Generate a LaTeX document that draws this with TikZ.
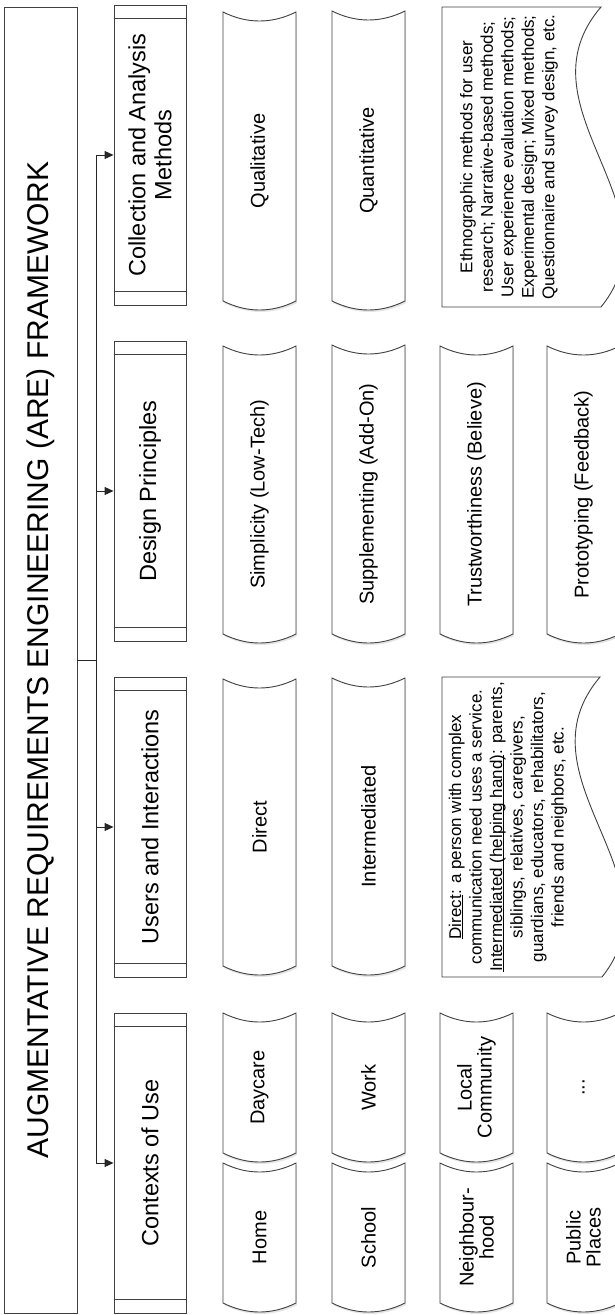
\documentclass[tikz,border=0pt]{standalone}
\usepackage{fontspec}
\setmainfont{Liberation Sans}
\usetikzlibrary{arrows.meta,shadows}
\tikzset{
  ln/.style={draw=black!75, line width=0.9pt},
  catbox/.style={ln, fill=white, minimum width=72pt, minimum height=300pt, inner sep=0pt},
  cattext/.style={rotate=90, align=center, font=\fontsize{23.5}{26}\selectfont},
  tapeshape/.style={ln, fill=white, drop shadow={shadow xshift=1.2pt, shadow yshift=-2pt, opacity=0.2}},
  tapetext/.style={rotate=90, align=center, font=\fontsize{20}{20}\selectfont},
  doctext/.style={rotate=90, align=center, font=\fontsize{17}{20.5}\selectfont},
  arr/.style={draw=black!85, line width=0.9pt, -{Triangle[length=9pt,width=8pt]}},
}
\newcommand\myul[1]{\setbox0\hbox{#1}\rlap{\rule[-2pt]{\wd0}{0.8pt}}\box0}
\newcommand\tapeitem[5]{%
  \path[tapeshape] (#2,#3) .. controls ({#2+24},{#3+12}) and ({#2+49},{#3+12}) .. ({#2+73},#3)
    -- ({#2+73},#4) .. controls ({#2+49},{#4+12}) and ({#2+24},{#4+12}) .. (#2,#4) -- cycle;
  \node[tapetext] (#1) at ({#2+36.5},{(#3+9+#4)/2}) {#5};
}
\begin{document}
\begin{tikzpicture}[x=1pt,y=-1pt]
\useasboundingbox (0,0) rectangle (615,1315);
\clip (0,0) rectangle (615,1315);
\fill[white] (0,0) rectangle (615,1315);

% title
\node[ln, fill=white, minimum width=73pt, minimum height=1306pt, inner sep=0pt] (titlebox) at (40.5,660) {};
\node[rotate=90, font=\fontsize{30}{36}\selectfont] (titletext) at (titlebox.center) {AUGMENTATIVE REQUIREMENTS ENGINEERING (ARE) FRAMEWORK};

% categories
\node[catbox] (c1) at (150,155) {};
\node[catbox] (c2) at (150,491) {};
\node[catbox] (c3) at (150,827) {};
\node[catbox] (c4) at (150,1163) {};
\foreach \c in {c1,c2,c3,c4}{
  \draw[ln] ([yshift=-14pt]\c.north west) -- ([yshift=-14pt]\c.north east);
  \draw[ln] ([yshift=14pt]\c.south west) -- ([yshift=14pt]\c.south east);
}
\node[cattext] (t1) at (c1.center) {Collection and Analysis\\Methods};
\node[cattext] (t2) at (c2.center) {Design Principles};
\node[cattext] (t3) at (c3.center) {Users and Interactions};
\node[cattext] (t4) at (c4.center) {Contexts of Use};

% connectors
\coordinate (j) at (96,660);
\draw[draw=black!85, line width=0.9pt] (titlebox.east) -- (j);
\draw[draw=black!85, line width=0.9pt] (j |- c1.west) -- (j |- c4.west);
\foreach \c in {c1,c2,c3,c4}{
  \draw[arr] (j |- \c.west) -- (\c.west);
}

% Collection and Analysis Methods
\tapeitem{qual}{223}{12}{301}{Qualitative}
\tapeitem{quant}{332}{11}{301}{Quantitative}
\path[ln, fill=white] (442,7) -- (601,7) .. controls (515,107) and (682,207) .. (601,307) -- (442,307) -- cycle;
\node[doctext] (doc1) at (509,157) {Ethnographic methods for user\\research; Narrative-based methods;\\User experience evaluation methods;\\Experimental design; Mixed methods;\\Questionnaire and survey design, etc.};

% Design Principles
\tapeitem{simp}{223}{346}{634}{Simplicity (Low-Tech)}
\tapeitem{supp}{332}{345}{634}{Supplementing (Add-On)}
\tapeitem{trust}{440}{346}{634}{Trustworthiness (Believe)}
\tapeitem{proto}{547}{346}{634}{Prototyping (Feedback)}

% Users and Interactions
\tapeitem{direct}{223}{679}{966}{Direct}
\tapeitem{inter}{332}{678}{966}{Intermediated}
\path[ln, fill=white] (442,677) -- (600,677) .. controls (515,777) and (682,877) .. (602,977) -- (442,977) -- cycle;
\node[doctext] (doc2) at (508,827) {\myul{Direct}: a person with complex\\communication need uses a service.\\\myul{Intermediated (helping hand)}: parents,\\siblings, relatives, caregivers,\\guardians, educators, rehabilitators,\\friends and neighbors, etc.};

% Contexts of Use
\tapeitem{daycare}{223}{1013}{1153}{Daycare}
\tapeitem{home}{223}{1163}{1303}{Home}
\tapeitem{work}{332}{1013}{1153}{Work}
\tapeitem{school}{332}{1163}{1303}{School}
\tapeitem{local}{440}{1013}{1153}{Local\\Community}
\tapeitem{neigh}{440}{1163}{1303}{Neighbour-\\hood}
\tapeitem{dots}{547}{1013}{1153}{...}
\tapeitem{public}{547}{1163}{1303}{Public\\Places}
\end{tikzpicture}
\end{document}
